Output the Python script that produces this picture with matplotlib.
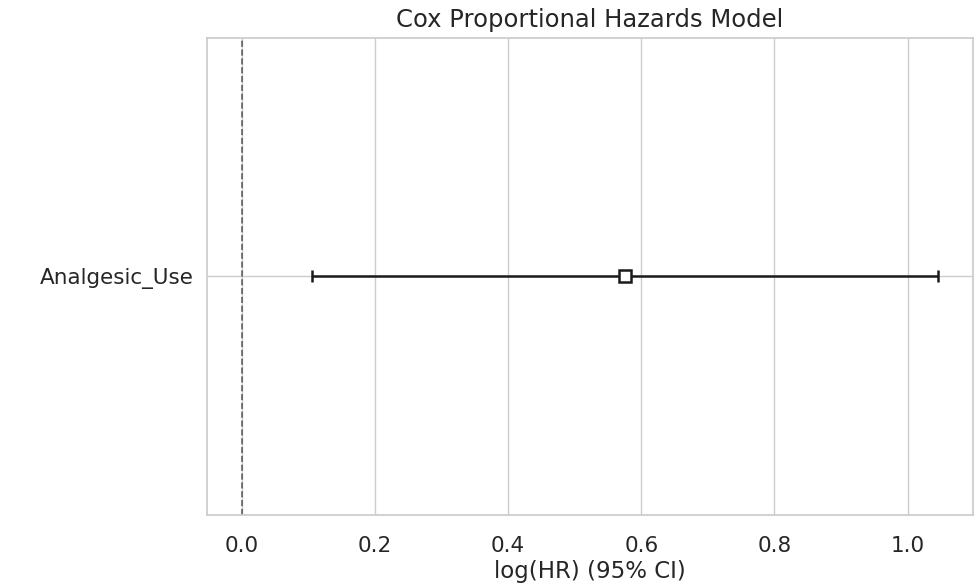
import numpy as np
import matplotlib
matplotlib.use("Agg")
import matplotlib.pyplot as plt
import seaborn as sns

# coefficient summary (log hazard ratio with 95% CI)
covariates = ["Analgesic_Use"]
coef = [0.575]
ci_lower = [0.105]
ci_upper = [1.046]

sns.set_theme(style="whitegrid")
plt.rcParams['font.family'] = ['DejaVu Sans']

fig = plt.figure(figsize=(9.76, 5.85), dpi=100)
ax = fig.add_axes([0.212, 0.12, 0.785, 0.815])

ypos = np.arange(len(covariates))
coef = np.array(coef)
lo = coef - np.array(ci_lower)
hi = np.array(ci_upper) - coef

ax.errorbar(coef, ypos, xerr=[lo, hi], fmt="s", c="k", markerfacecolor="white",
            markeredgewidth=1.8, elinewidth=1.8, capsize=4, capthick=1.8,
            markersize=9)
ax.axvline(0, linestyle="--", linewidth=1.2, color="k", alpha=0.65)

ax.set_yticks(ypos)
ax.set_yticklabels(covariates, fontsize=15.5)
ax.set_ylim(-1, len(covariates))
ax.set_xticks([0.0, 0.2, 0.4, 0.6, 0.8, 1.0])
ax.tick_params(axis="x", labelsize=15.5, pad=9)
ax.set_xlabel("log(HR) (95% CI)", fontsize=16.5, labelpad=3)
ax.set_title("Cox Proportional Hazards Model", fontsize=17.5, pad=8)

plt.savefig("out.png", dpi=100)
